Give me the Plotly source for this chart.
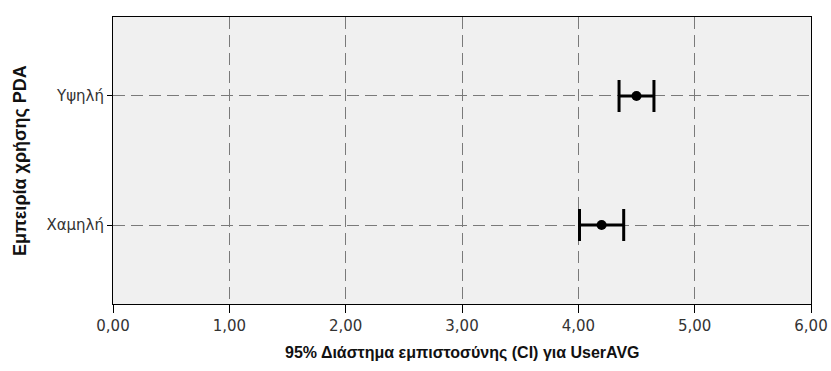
import plotly.graph_objects as go

# Mean UserAVG with 95% confidence limits per PDA-experience group
groups = ["Χαμηλή", "Υψηλή"]
means = [4.20, 4.50]
ci_lower = [4.01, 4.35]
ci_upper = [4.39, 4.65]
x_ticks = [0, 1, 2, 3, 4, 5, 6]
x_tick_labels = ["0,00", "1,00", "2,00", "3,00", "4,00", "5,00", "6,00"]
x_title = "95% Διάστημα εμπιστοσύνης (CI) για UserAVG"
y_title = "Εμπειρία χρήσης PDA"

err_plus = [u - m for u, m in zip(ci_upper, means)]
err_minus = [m - l for m, l in zip(means, ci_lower)]

fig = go.Figure(
    go.Scatter(
        x=means,
        y=groups,
        mode="markers",
        marker=dict(color="black", size=10),
        error_x=dict(
            type="data",
            symmetric=False,
            array=err_plus,
            arrayminus=err_minus,
            color="black",
            thickness=3,
            width=16,
        ),
        showlegend=False,
    )
)

tick_font = dict(family="DejaVu Sans", size=15, color="#333333")
title_font = dict(family="Liberation Sans", size=16, color="#111111")

common_axis = dict(
    ticks="outside",
    tickcolor="black",
    tickfont=tick_font,
    showline=True,
    linecolor="black",
    linewidth=1,
    mirror=True,
    showgrid=True,
    gridcolor="#7a7a7a",
    gridwidth=1.2,
    griddash="12px,6px",
    zeroline=False,
    automargin=False,
)

fig.update_layout(
    width=831,
    height=371,
    margin=dict(l=113, r=20, t=17, b=67),
    paper_bgcolor="white",
    plot_bgcolor="#f0f0f0",
    xaxis=dict(
        range=[0, 6],
        tickvals=x_ticks,
        ticktext=x_tick_labels,
        ticklen=8,
        **common_axis,
    ),
    yaxis=dict(
        type="category",
        categoryorder="array",
        categoryarray=groups,
        range=[-0.612, 1.612],
        ticklen=5,
        **common_axis,
    ),
    annotations=[
        dict(
            text=f"<b>{x_title}</b>",
            x=0.5, xref="paper",
            y=-0.17, yref="paper", yanchor="middle",
            showarrow=False,
            font=title_font,
        ),
        dict(
            text=f"<b>{y_title}</b>",
            x=-0.134, xref="paper", xanchor="center",
            y=0.5, yref="paper",
            textangle=-90,
            showarrow=False,
            font=dict(family="Liberation Sans", size=18, color="#111111"),
        ),
    ],
)

fig.write_html("out.html")
